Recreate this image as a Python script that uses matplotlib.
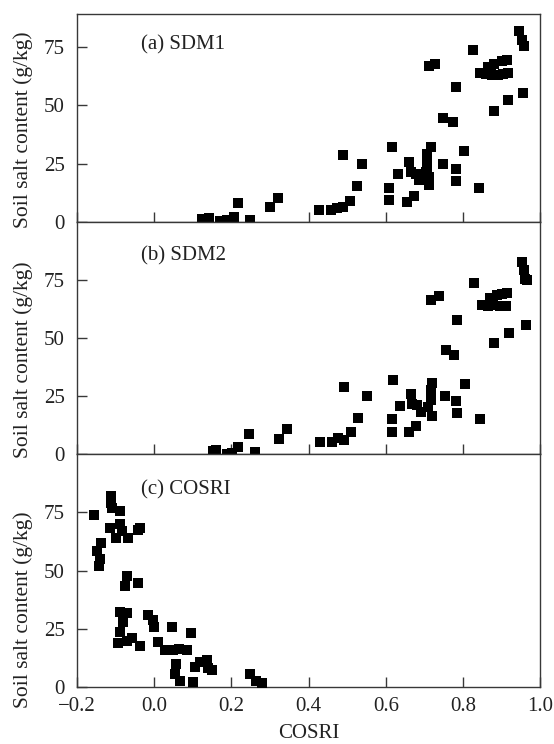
import matplotlib
matplotlib.use('Agg')
import matplotlib.pyplot as plt

plt.rcParams['font.family'] = ['Liberation Serif', 'DejaVu Serif']

# COSRI vs soil salt content, panel (a) SDM1
sdm1_x = [0.124, 0.141, 0.171, 0.189, 0.206, 0.217, 0.249, 0.301, 0.321,
          0.427, 0.459, 0.474, 0.490, 0.507, 0.490, 0.526, 0.539,
          0.609, 0.609, 0.617, 0.632, 0.655, 0.672, 0.661, 0.665, 0.678,
          0.687, 0.705, 0.708, 0.708, 0.717, 0.708, 0.712, 0.712, 0.711,
          0.727, 0.749, 0.747, 0.773, 0.782, 0.782, 0.782, 0.803, 0.825,
          0.842, 0.845, 0.860, 0.875, 0.890, 0.905, 0.865, 0.880, 0.900,
          0.872, 0.917, 0.915, 0.880, 0.916, 0.946, 0.952, 0.957, 0.955]
sdm1_y = [1.4, 1.7, 0.7, 0.9, 2.1, 8.4, 1.0, 6.7, 10.5,
          5.2, 5.2, 6.3, 6.6, 9.3, 28.8, 15.3, 24.8,
          9.6, 14.7, 32.0, 20.7, 8.8, 11.2, 25.8, 21.5, 20.8,
          18.0, 21.5, 25.3, 29.3, 32.3, 23.0, 19.5, 15.9, 66.7,
          67.8, 25.1, 44.5, 42.7, 57.6, 22.8, 17.5, 30.3, 73.5,
          14.5, 63.7, 63.3, 63.0, 63.0, 63.3, 66.5, 67.8, 68.8,
          65.0, 64.0, 69.5, 47.5, 52.3, 81.7, 78.0, 75.2, 55.2]

# panel (b) SDM2
sdm2_x = [0.153, 0.160, 0.188, 0.201, 0.218, 0.245, 0.262, 0.323, 0.343,
          0.429, 0.461, 0.477, 0.492, 0.509, 0.492, 0.529, 0.551,
          0.616, 0.616, 0.620, 0.636, 0.661, 0.678, 0.665, 0.667, 0.682,
          0.690, 0.710, 0.717, 0.719, 0.718, 0.719, 0.717, 0.737, 0.753,
          0.756, 0.778, 0.784, 0.783, 0.784, 0.806, 0.829, 0.845, 0.850,
          0.865, 0.878, 0.895, 0.912, 0.870, 0.888, 0.900, 0.915, 0.881,
          0.920, 0.953, 0.957, 0.960, 0.966, 0.964]
sdm2_y = [1.5, 2.0, 0.0, 0.5, 3.0, 8.6, 0.8, 6.5, 11.0,
          5.4, 5.1, 6.9, 6.2, 9.5, 29.1, 15.8, 25.2,
          9.7, 15.0, 32.0, 21.0, 9.4, 12.3, 26.2, 21.8, 21.1,
          18.2, 20.5, 27.7, 30.6, 23.4, 16.5, 66.4, 68.1, 25.2,
          44.9, 43.0, 58.1, 23.0, 17.6, 30.5, 74.0, 15.1, 64.5,
          64.0, 64.5, 64.0, 64.0, 67.5, 68.5, 69.0, 69.5, 47.8,
          52.3, 82.9, 79.3, 75.7, 75.0, 55.6]

# panel (c) COSRI
cosri_x = [-0.156, -0.113, -0.113, -0.110, -0.088, -0.114, -0.088, -0.084,
           -0.099, -0.067, -0.041, -0.038, -0.138, -0.147, -0.141, -0.142,
           -0.071, -0.075, -0.042, -0.088, -0.071, -0.080, -0.088, -0.093,
           -0.071, -0.058, -0.038, -0.015, -0.002, 0.000, 0.011, 0.029,
           0.046, 0.049, 0.063, 0.085, 0.096, 0.057, 0.055, 0.068,
           0.100, 0.106, 0.118, 0.137, 0.140, 0.150, 0.248, 0.265, 0.280]
cosri_y = [73.8, 82.0, 79.0, 77.0, 75.6, 68.5, 69.9, 67.0,
           64.0, 64.0, 67.4, 68.5, 62.0, 58.5, 55.0, 52.0,
           47.9, 43.2, 44.6, 32.2, 32.0, 27.9, 23.6, 18.7,
           19.7, 21.2, 17.5, 30.8, 29.0, 26.0, 19.4, 15.8,
           25.8, 15.8, 16.5, 15.8, 23.2, 10.1, 5.8, 2.7,
           2.3, 8.7, 10.8, 11.5, 8.0, 7.3, 5.8, 2.7, 1.8]

xticks = [-0.2, 0.0, 0.2, 0.4, 0.6, 0.8, 1.0]
yticks = [0, 25, 50, 75]

panels = [
    ('(a) SDM1', sdm1_x, sdm1_y, [0.139, 0.7012, 0.836, 0.2800], 89, 0.85, 0.443),
    ('(b) SDM2', sdm2_x, sdm2_y, [0.139, 0.3894, 0.836, 0.3118], 100, 0.855, 0.406),
    ('(c) COSRI', cosri_x, cosri_y, [0.139, 0.0766, 0.836, 0.3128], 100, 0.845, 0.331),
]

fig = plt.figure(figsize=(5.54, 7.44), dpi=100)
spcol = '#383838'

for i, (name, xs, ys, pos, ytop, ty, ly) in enumerate(panels):
    ax = fig.add_axes(pos)
    ax.scatter(xs, ys, marker='s', s=62, c='black', linewidths=0, zorder=3, clip_on=False)
    ax.set_xlim(-0.2, 1.0)
    ax.set_ylim(0, ytop)
    ax.set_xticks(xticks)
    ax.set_yticks(yticks)
    ax.tick_params(direction='in', length=7, width=1, colors=spcol,
                   labelcolor='#222222', labelsize=15)
    ax.tick_params(axis='y', pad=9)
    ax.tick_params(axis='x', pad=7)
    for sp in ax.spines.values():
        sp.set_color(spcol)
        sp.set_linewidth(1.0)
    if i < 2:
        ax.set_xticklabels([])
    else:
        ax.set_xticklabels(['\u22120.2', '0.0', '0.2', '0.4', '0.6', '0.8', '1.0'])
        ax.set_xlabel('COSRI', fontsize=15, color='#222222', labelpad=6)
    ax.set_ylabel('Soil salt content (g/kg)', fontsize=15.5, color='#222222')
    ax.yaxis.set_label_coords(-0.095, ly)
    ax.text(0.138, ty, name, transform=ax.transAxes, fontsize=15,
            ha='left', va='center', color='#222222')

plt.savefig('out.png', dpi=100)
